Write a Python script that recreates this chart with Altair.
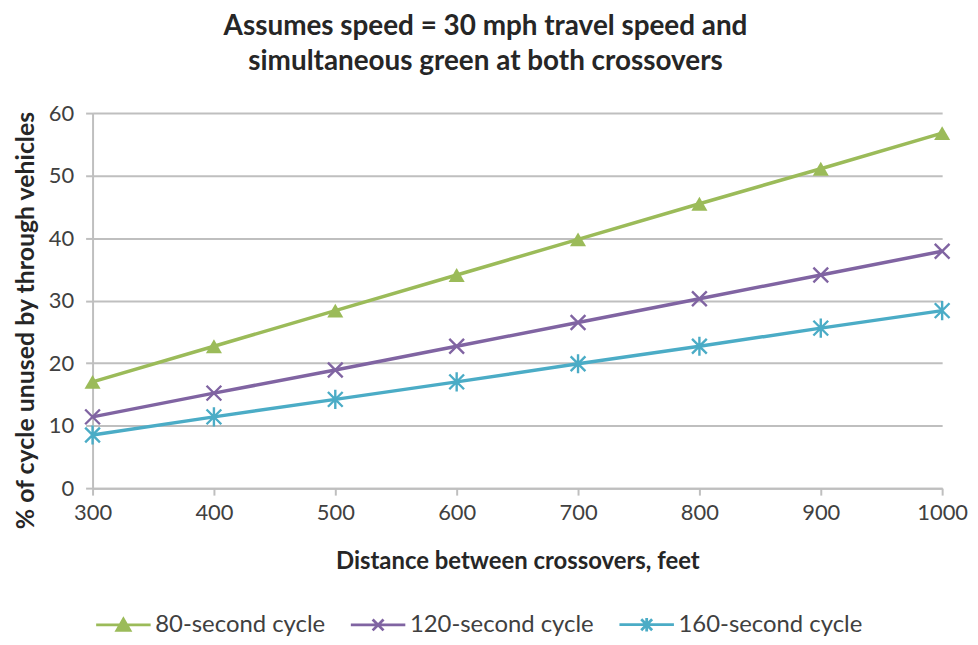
import altair as alt
import pandas as pd

distance = [300, 400, 500, 600, 700, 800, 900, 1000]
series_names = ["80-second cycle", "120-second cycle", "160-second cycle"]
cycle_80 = [17.0, 22.7, 28.4, 34.1, 39.8, 45.5, 51.1, 56.8]
cycle_120 = [11.4, 15.2, 18.9, 22.7, 26.5, 30.3, 34.1, 37.9]
cycle_160 = [8.5, 11.4, 14.2, 17.0, 19.9, 22.7, 25.6, 28.4]
colors = ["#9BBB59", "#8064A2", "#4BACC6"]
x_ticks = [300, 400, 500, 600, 700, 800, 900, 1000]
y_ticks = [0, 10, 20, 30, 40, 50, 60]

rows = []
for name, vals in zip(series_names, [cycle_80, cycle_120, cycle_160]):
    for d, v in zip(distance, vals):
        rows.append({"distance": d, "series": name, "value": v})
df = pd.DataFrame(rows)

FONT = "Lato"
GRID = "#BFBFBF"

x_enc = alt.X("distance:Q",
              scale=alt.Scale(domain=[300, 1000], nice=False, zero=False),
              axis=alt.Axis(values=x_ticks, format="d", title="Distance between crossovers,  feet",
                            grid=False, domainColor=GRID, domainWidth=2,
                            tickColor=GRID, tickWidth=2, tickSize=7,
                            labelFontSize=22, labelColor="#404040", labelPadding=8,
                            labelFlush=False,
                            titleFontSize=24, titleFontWeight="bold", titleColor="#262626",
                            titlePadding=26, labelFont=FONT, titleFont=FONT))
y_enc = alt.Y("value:Q",
              scale=alt.Scale(domain=[0, 60], nice=False),
              axis=alt.Axis(values=y_ticks, title="% of cycle unused by through vehicles",
                            grid=True, gridColor=GRID, gridWidth=2,
                            domainColor=GRID, domainWidth=2,
                            tickColor=GRID, tickWidth=2, tickSize=7,
                            labelFontSize=22, labelColor="#404040", labelPadding=12,
                            labelFlush=False,
                            titleFontSize=25, titleFontWeight="bold", titleColor="#262626",
                            titlePadding=10, titleY=208, labelFont=FONT, titleFont=FONT))

base = alt.Chart(df).encode(x=x_enc, y=y_enc)

x_path = "M -1 -1 L 1 1 M -1 1 L 1 -1"
ast_path = "M -1 -1 L 1 1 M -1 1 L 1 -1 M 0 -1.3 L 0 1.3"

layers = []
for name, col in zip(series_names, colors):
    layers.append(
        base.transform_filter(alt.datum.series == name).mark_line(strokeWidth=3.5, color=col)
    )
layers.append(
    base.transform_filter(alt.datum.series == series_names[0]).mark_point(
        shape="triangle-up", filled=True, size=260, opacity=1, color=colors[0])
)
layers.append(
    base.transform_filter(alt.datum.series == series_names[1]).mark_point(
        shape=x_path, filled=False, size=220, strokeWidth=2.4, opacity=1, color=colors[1])
)
layers.append(
    base.transform_filter(alt.datum.series == series_names[2]).mark_point(
        shape=ast_path, filled=False, size=220, strokeWidth=2.4, opacity=1, color=colors[2])
)

leg_paths = [
    "M -1 0 L 1 0 M -0.24 0.2 L 0 -0.22 L 0.24 0.2 Z M -0.14 0.14 L 0 -0.1 L 0.14 0.14 Z M -0.05 0.1 L 0 0.02 L 0.05 0.1 Z",
    "M -1 0 L 1 0 M -0.2 -0.2 L 0.2 0.2 M -0.2 0.2 L 0.2 -0.2",
    "M -1 0 L 1 0 M -0.2 -0.2 L 0.2 0.2 M -0.2 0.2 L 0.2 -0.2 M 0 -0.25 L 0 0.25",
]
legend = alt.Legend(title=None, orient="none", direction="horizontal",
                    legendX=2, legendY=485, symbolSize=3000, symbolStrokeWidth=2.8,
                    symbolOpacity=1, labelFontSize=24, labelFont=FONT, labelLimit=400,
                    labelColor="#404040", labelOffset=3, columnPadding=20)
layers.append(
    base.mark_point(opacity=0, filled=False).encode(
        color=alt.Color("series:N", scale=alt.Scale(domain=series_names, range=colors), legend=legend),
        shape=alt.Shape("series:N", scale=alt.Scale(domain=series_names, range=leg_paths), legend=legend),
    )
)

chart = alt.layer(*layers).properties(
    width=854, height=377,
    autosize=alt.AutoSizeParams(type="none"),
    padding={"left": 85, "top": 104, "right": 28, "bottom": 148},
    title=alt.TitleParams(
        text=["Assumes speed = 30 mph travel speed and", "simultaneous green at both crossovers"],
        fontSize=28, fontWeight="bold", font=FONT, color="#262626",
        anchor="middle", lineHeight=35, offset=26, dx=-32,
    ),
).configure_view(stroke=None)

chart.save("out.html", embed_options={"renderer": "svg", "actions": False})
